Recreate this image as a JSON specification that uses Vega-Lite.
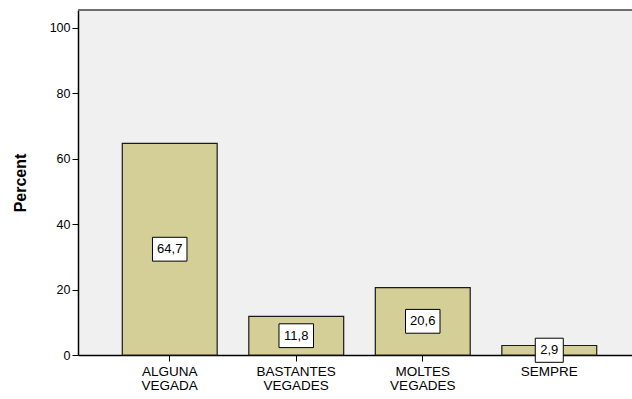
{
  "$schema": "https://vega.github.io/schema/vega-lite/v6.json",
  "autosize": "none",
  "padding": {"left": 78, "top": 10, "right": 0, "bottom": 44},
  "width": 554,
  "height": 345,
  "background": "#ffffff",
  "config": {
    "locale": {"number": {"decimal": ",", "thousands": ".", "grouping": [3], "currency": ["", " €"]}},
    "font": "Liberation Sans",
    "view": {"fill": "#f0f0f0", "stroke": null},
    "axis": {"grid": false, "domainColor": "#000000", "tickColor": "#000000", "labelColor": "#000000", "titleColor": "#000000"}
  },
  "data": {
    "values": [
      {"category": "ALGUNA VEGADA", "Percent": 64.7},
      {"category": "BASTANTES VEGADES", "Percent": 11.8},
      {"category": "MOLTES VEGADES", "Percent": 20.6},
      {"category": "SEMPRE", "Percent": 2.9}
    ]
  },
  "transform": [{"calculate": "datum.Percent / 2", "as": "mid"}],
  "layer": [
    {
      "mark": {"type": "rule", "color": "#6e6e6e", "strokeWidth": 2},
      "encoding": {"y": {"datum": 105.5, "type": "quantitative"}}
    },
    {
      "mark": {"type": "bar", "fill": "#d4cf97", "stroke": "#1a1a1a", "strokeWidth": 1.2},
      "encoding": {
        "x": {
          "field": "category",
          "type": "nominal",
          "sort": null,
          "scale": {"range": [0, 563], "paddingInner": 0.25, "paddingOuter": 0.35},
          "axis": {
            "title": null,
            "labelAngle": 0,
            "labelFontSize": 13.5,
            "labelLineHeight": 14,
            "labelPadding": 3,
            "tickSize": 6,
            "domainWidth": 1.5,
            "labelExpr": "split(datum.label, ' ')"
          }
        },
        "y": {
          "field": "Percent",
          "type": "quantitative",
          "scale": {"domain": [0, 105.5], "nice": false},
          "axis": {
            "values": [0, 20, 40, 60, 80, 100],
            "title": "Percent",
            "titleFontSize": 16,
            "titleFontWeight": "bold",
            "titlePadding": 21,
            "labelFontSize": 12.5,
            "tickSize": 6,
            "labelPadding": 2,
            "domainWidth": 1.5
          }
        }
      }
    },
    {
      "mark": {"type": "point", "filled": true, "fill": "#ffffff", "stroke": "#000000", "strokeWidth": 1, "opacity": 1},
      "encoding": {
        "x": {"field": "category", "type": "nominal", "sort": null},
        "y": {"field": "mid", "type": "quantitative"},
        "shape": {
          "condition": {"test": "datum.Percent < 10", "value": "M-1,-0.86L1,-0.86L1,0.86L-1,0.86Z"},
          "value": "M-1,-0.69L1,-0.69L1,0.69L-1,0.69Z"
        },
        "size": {
          "condition": {"test": "datum.Percent < 10", "value": 784},
          "value": 1190
        }
      }
    },
    {
      "mark": {"type": "text", "fontSize": 13, "color": "#000000", "baseline": "middle", "align": "center"},
      "encoding": {
        "x": {"field": "category", "type": "nominal", "sort": null},
        "y": {"field": "mid", "type": "quantitative"},
        "text": {"field": "Percent", "type": "quantitative", "format": ".1f"}
      }
    }
  ]
}
